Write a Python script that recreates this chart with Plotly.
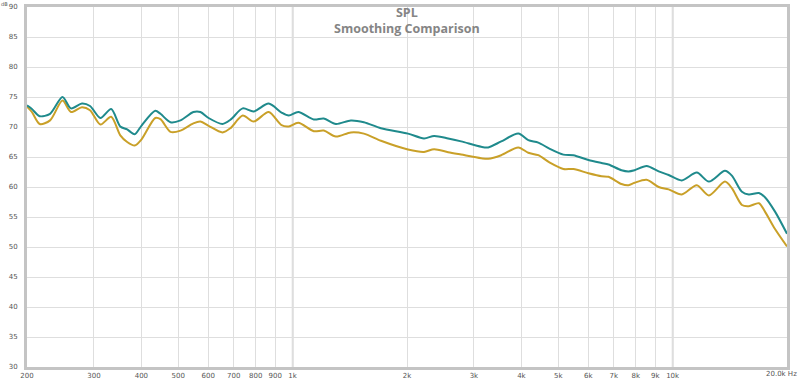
import plotly.graph_objects as go
import numpy as np

freq = [200, 206, 216, 230, 248, 261, 279, 293, 312, 333, 352, 367, 384, 400, 435, 449, 477, 507,
        548, 572, 601, 654, 686, 739, 790, 865, 935, 977, 1035, 1137, 1208, 1300, 1423, 1540,
        1708, 2012, 2217, 2357, 2566, 2777, 3135, 3271, 3540, 3926, 4171, 4432, 4740, 5158,
        5482, 6005, 6500, 6782, 7336, 7656, 7940, 8542, 9191, 9764, 10570, 11580, 12460,
        13730, 14320, 15220, 15870, 16870, 17500, 18600, 20000]

spl_teal = [73.6, 73.0, 71.8, 72.2, 75.0, 73.1, 73.9, 73.5, 71.5, 73.0, 70.1, 69.6, 68.8, 70.2,
            72.7, 72.2, 70.8, 71.1, 72.5, 72.5, 71.5, 70.5, 71.2, 73.1, 72.6, 73.9, 72.4, 71.9,
            72.5, 71.25, 71.4, 70.5, 71.1, 70.8, 69.8, 68.9, 68.1, 68.5, 68.1, 67.6, 66.7, 66.6,
            67.6, 68.9, 67.8, 67.4, 66.4, 65.4, 65.3, 64.5, 64.0, 63.75, 62.8, 62.6, 62.8, 63.5,
            62.6, 62.0, 61.1, 62.4, 60.9, 62.7, 61.9, 59.2, 58.75, 59.0, 58.3, 55.9, 52.2]

spl_gold = [73.4, 72.5, 70.5, 71.1, 74.4, 72.5, 73.3, 72.8, 70.4, 71.7, 68.6, 67.5, 66.9, 67.9,
            71.5, 71.3, 69.2, 69.4, 70.6, 70.9, 70.2, 69.1, 69.8, 71.9, 70.9, 72.5, 70.3, 70.1,
            70.7, 69.3, 69.4, 68.4, 69.1, 68.9, 67.7, 66.25, 65.85, 66.3, 65.8, 65.4, 64.8, 64.7,
            65.3, 66.6, 65.7, 65.3, 64.1, 63.0, 63.0, 62.3, 61.8, 61.7, 60.5, 60.3, 60.7, 61.2,
            60.0, 59.6, 58.75, 60.3, 58.6, 60.9, 59.8, 57.0, 56.8, 57.3, 55.9, 53.0, 50.1]

x_ticks = [200, 300, 400, 500, 600, 700, 800, 900, 1000, 2000, 3000, 4000, 5000, 6000, 7000,
           8000, 9000, 10000]
x_tick_labels = ["200", "300", "400", "500", "600", "700", "800", "900", "1k", "2k", "3k", "4k",
                 "5k", "6k", "7k", "8k", "9k", "10k"]
y_ticks = [30, 35, 40, 45, 50, 55, 60, 65, 70, 75, 80, 85, 90]

fig = go.Figure()
fig.add_trace(go.Scatter(x=freq, y=spl_gold, mode="lines",
                         line=dict(color="#c9a028", width=2, shape="spline", smoothing=0.8),
                         showlegend=False, hoverinfo="skip"))
fig.add_trace(go.Scatter(x=freq, y=spl_teal, mode="lines",
                         line=dict(color="#1f8a8c", width=2, shape="spline", smoothing=0.8),
                         showlegend=False, hoverinfo="skip"))

# decade lines
for d in [1000, 10000]:
    fig.add_shape(type="line", xref="x", yref="paper", x0=d, x1=d, y0=0, y1=1,
                  line=dict(color="#b4b4b4", width=1.5), layer="below")

fig.update_xaxes(type="log", range=[np.log10(200), np.log10(20000)],
                 tickvals=x_ticks, ticktext=x_tick_labels, automargin=False,
                 showgrid=True, gridcolor="#dedede", gridwidth=1,
                 showline=True, linecolor="#c4c4c4", linewidth=3, mirror=True,
                 ticks="", tickfont=dict(size=7, color="#555555", family="DejaVu Sans"),
                 zeroline=False, fixedrange=True)
fig.update_yaxes(range=[30, 90], tickvals=y_ticks, automargin=False,
                 showgrid=True, gridcolor="#dedede", gridwidth=1,
                 showline=True, linecolor="#c4c4c4", linewidth=3, mirror=True,
                 ticks="outside", ticklen=5, tickcolor="rgba(0,0,0,0)",
                 tickfont=dict(size=7, color="#555555", family="DejaVu Sans"),
                 zeroline=False, fixedrange=True)

fig.add_annotation(x=1, y=0, xref="paper", yref="paper", text="20.0k Hz", showarrow=False,
                   xanchor="right", yanchor="top", xshift=12, yshift=-1,
                   font=dict(size=7, color="#555555", family="DejaVu Sans"))
fig.add_annotation(x=0, y=1, xref="paper", yref="paper", text="dB", showarrow=False,
                   xanchor="right", yanchor="top", xshift=-18, yshift=7, borderpad=0,
                   font=dict(size=5, color="#555555", family="DejaVu Sans"))
fig.add_annotation(x=0.5, y=1, xref="paper", yref="paper",
                   text="<b>SPL</b><br><b>Smoothing Comparison</b>",
                   showarrow=False, xanchor="center", yanchor="middle", yshift=-13,
                   font=dict(size=12.5, color="#858585", family="Open Sans"))

fig.update_layout(width=800, height=379, margin=dict(l=27, r=13, t=7, b=12),
                  paper_bgcolor="white", plot_bgcolor="white")

fig.write_html("out.html", config={"displayModeBar": False},
               post_script="document.body.style.margin='0';document.body.style.overflow='hidden';")
